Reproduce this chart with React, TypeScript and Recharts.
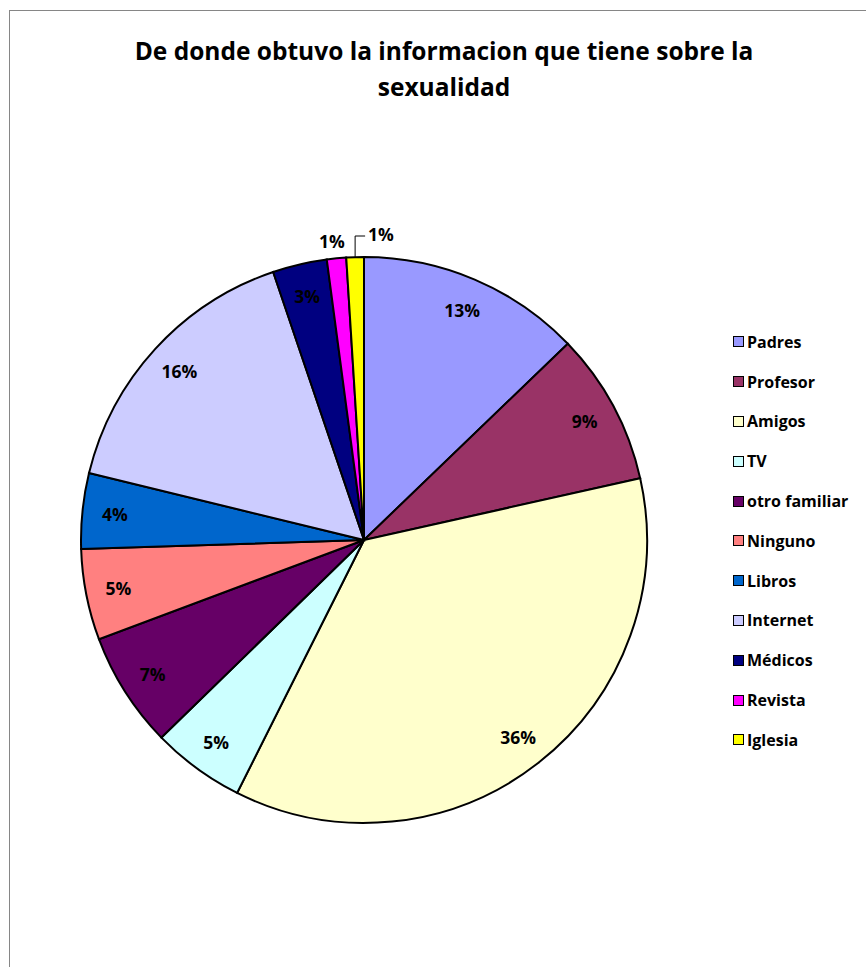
import { PieChart, Pie, Cell, Legend } from "recharts";

const categories = [
  "Padres",
  "Profesor",
  "Amigos",
  "TV",
  "otro familiar",
  "Ninguno",
  "Libros",
  "Internet",
  "Médicos",
  "Revista",
  "Iglesia",
];
const values = [12.8, 8.7, 35.9, 5.3, 6.6, 5.2, 4.3, 16.0, 3.1, 1.1, 1.0];
const COLORS = [
  "#9999FF",
  "#993366",
  "#FFFFCC",
  "#CCFFFF",
  "#660066",
  "#FF8080",
  "#0066CC",
  "#CCCCFF",
  "#000080",
  "#FF00FF",
  "#FFFF00",
];

const data = categories.map((name, i) => ({ name, value: values[i] }));

const FONT = "'Open Sans', Lato, sans-serif";
const RAD = Math.PI / 180;
const LABEL_SIZE = 17.5;

function renderLabel(props: any) {
  const { cx, cy, midAngle, outerRadius, percent, index } = props;
  const text = `${Math.round(percent * 100)}%`;
  const cos = Math.cos(-midAngle * RAD);
  const sin = Math.sin(-midAngle * RAD);
  // last slice (Iglesia): elbow leader line above the pie
  if (index === categories.length - 1) {
    const sx = cx + outerRadius * cos;
    const sy = cy + outerRadius * sin;
    const ey = cy - outerRadius - 21;
    return (
      <g>
        <polyline
          points={`${sx},${sy} ${sx},${ey} ${sx + 10},${ey}`}
          fill="none"
          stroke="#000"
          strokeWidth={1}
        />
        <text x={sx + 13} y={ey - 2} fontFamily={FONT} fontWeight={700} fontSize={LABEL_SIZE} fill="#000" dominantBaseline="central">
          {text}
        </text>
      </g>
    );
  }
  if (percent < 0.02) {
    const r = outerRadius + 17;
    return (
      <text
        x={cx + r * cos - 3}
        y={cy + r * sin}
        fontFamily={FONT}
        fontWeight={700}
        fontSize={LABEL_SIZE}
        fill="#000"
        textAnchor="middle"
        dominantBaseline="central"
      >
        {text}
      </text>
    );
  }
  const r = outerRadius * 0.885;
  return (
    <text
      x={cx + r * cos}
      y={cy + r * sin}
      fontFamily={FONT}
      fontWeight={700}
      fontSize={LABEL_SIZE}
      fill="#000"
      textAnchor="middle"
      dominantBaseline="central"
    >
      {text}
    </text>
  );
}

function LegendContent() {
  return (
    <div style={{ fontFamily: FONT, fontWeight: 700, fontSize: 16, color: "#000" }}>
      {categories.map((name, i) => (
        <div key={name} style={{ display: "flex", alignItems: "center", height: 39.8 }}>
          <span
            style={{
              display: "inline-block",
              width: 9,
              height: 9,
              background: COLORS[i],
              border: "1.5px solid #000",
              marginRight: 3,
            }}
          />
          <span>{name}</span>
        </div>
      ))}
    </div>
  );
}

export default function App() {
  return (
    <div
      style={{
        position: "fixed",
        left: 0,
        top: 0,
        width: 866,
        height: 967,
        overflow: "hidden",
        background: "#fff",
      }}
    >
      <div
        style={{
          position: "absolute",
          left: 9,
          top: 10,
          width: 900,
          height: 1000,
          border: "1px solid #868686",
        }}
      />
      <div
        style={{
          position: "absolute",
          left: 0,
          top: 33,
          width: 888,
          textAlign: "center",
          fontFamily: FONT,
          fontWeight: 700,
          fontSize: 24.5,
          lineHeight: "36px",
          color: "#000",
        }}
      >
        De donde obtuvo la informacion que tiene sobre la
        <br />
        sexualidad
      </div>
      <div style={{ position: "absolute", left: 0, top: 0 }}>
        <PieChart width={866} height={967} margin={{ top: 0, right: 0, bottom: 0, left: 0 }}>
          <Pie
            data={data}
            dataKey="value"
            nameKey="name"
            cx={364}
            cy={540}
            outerRadius={283}
            startAngle={90}
            endAngle={-270}
            stroke="#000"
            strokeWidth={2}
            label={renderLabel}
            labelLine={false}
            isAnimationActive={false}
          >
            {data.map((entry, i) => (
              <Cell key={entry.name} fill={COLORS[i]} />
            ))}
          </Pie>
          <Legend
            layout="vertical"
            content={<LegendContent />}
            wrapperStyle={{ left: 733, top: 322, width: 130 }}
          />
        </PieChart>
      </div>
    </div>
  );
}
